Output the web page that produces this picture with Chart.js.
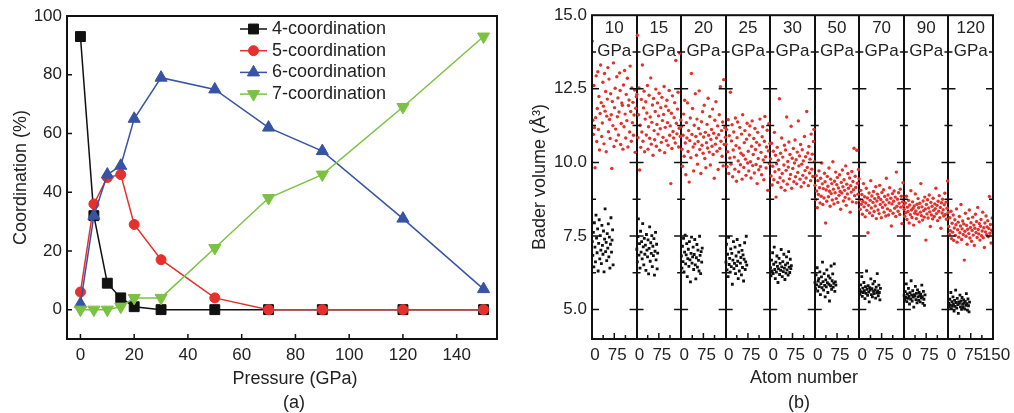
<!DOCTYPE html>
<html>
<head>
<meta charset="utf-8">
<script src="https://cdn.jsdelivr.net/npm/chart.js@4.4.0/dist/chart.umd.min.js"></script>
<style>
  body { margin: 0; background: #fff; }
  #wrap { position: relative; width: 1014px; height: 413px; font-family: "Liberation Sans", Arial, sans-serif; color: #222; }
  #coordChart { position: absolute; left: 0; top: 0; }
  #baderChart { position: absolute; left: 510px; top: 0; }
  .lbl { position: absolute; font-size: 18px; line-height: 20px; white-space: nowrap; transform: translateX(-50%); }
</style>
</head>
<body>
<div id="wrap">
  <canvas id="coordChart" width="510" height="413"></canvas>
  <canvas id="baderChart" width="504" height="413"></canvas>
  <div class="lbl" style="left:295px; top:368px;">Pressure (GPa)</div>
  <div class="lbl" style="left:294px; top:392px;">(a)</div>
  <div class="lbl" style="left:804px; top:367px;">Atom number</div>
  <div class="lbl" style="left:799px; top:392px;">(b)</div>
</div>
<script>
// (a) coordination vs pressure
const pressures = [0, 5, 10, 15, 20, 30, 50, 70, 90, 120, 150];
const coord4 = [93, 32, 9, 4, 1, 0, 0, 0, 0, 0, 0];
const coord5 = [6, 36, 45, 46, 29, 17, 4, 0, 0, 0, 0];
const coord6 = [2, 32, 46, 49, 65, 79, 75, 62, 54, 31, 7];
const coord7 = [0, 0, 0, 1, 4, 4, 21, 38, 46, 69, 93];
const pressureTicks = [0, 20, 40, 60, 80, 100, 120, 140];
const coordTicks = [0, 20, 40, 60, 80, 100];

// (b) Bader volumes, one panel per pressure
const panelPressures = [10, 15, 20, 25, 30, 50, 70, 90, 120];
const red10 = [14.12, 11.43, 10.95, 12.61, 11.18, 9.82, 11.52, 12.94, 10.71, 11.83,
  13.08, 11.12, 12.24, 10.42, 11.66, 13.31, 12.03, 10.88, 11.34, 12.72,
  11.91, 10.63, 13.02, 11.74, 12.41, 10.36, 11.57, 12.15, 13.22, 11.04,
  12.83, 11.46, 10.81, 12.33, 11.62, 9.79, 12.07, 11.25, 13.38, 10.54,
  11.86, 12.52, 11.13, 10.74, 12.91, 11.55, 12.19, 10.93, 11.71, 13.04,
  12.44, 10.61, 11.32, 12.02, 11.94, 10.45, 12.63, 11.21, 13.12, 11.64,
  10.83, 12.31, 11.42, 12.86, 10.52, 11.93, 12.12, 11.03, 13.27, 11.73,
  10.72, 12.53, 11.35, 12.04, 10.92, 11.61, 12.46, 10.34, 11.84, 12.23];
const black10 = [7.31, 6.84, 7.62, 6.45, 7.95, 7.12, 6.62, 8.21, 7.43, 6.93,
  7.74, 6.31, 7.25, 8.05, 6.72, 7.51, 7.02, 6.56, 7.86, 7.18,
  6.88, 7.67, 6.28, 7.39, 8.42, 6.97, 7.28, 6.66, 7.58, 7.09,
  7.91, 6.79, 7.46, 6.41, 7.22, 8.12, 6.95, 7.36, 7.71, 6.52];
const red15 = [12.31, 14.32, 10.84, 11.62, 12.53, 9.74, 11.26, 10.51, 12.14, 11.03,
  13.31, 10.72, 11.85, 12.42, 10.36, 11.47, 12.06, 10.93, 11.68, 12.61,
  10.45, 11.21, 12.28, 10.82, 11.54, 12.87, 10.62, 11.36, 11.95, 10.24,
  12.17, 11.08, 10.77, 11.73, 12.49, 10.55, 11.29, 12.02, 10.96, 11.58,
  12.35, 10.41, 11.14, 11.86, 10.68, 12.21, 11.42, 10.85, 11.63, 12.58,
  10.33, 11.19, 11.91, 10.74, 12.11, 11.35, 10.58, 11.76, 12.44, 10.92,
  11.24, 9.28, 11.67, 10.47, 12.26, 11.05, 10.83, 11.52, 12.03, 10.66,
  13.46, 11.33, 10.97, 11.81, 12.38, 10.52, 11.16, 13.71, 10.88, 11.44];
const black15 = [7.05, 6.62, 7.48, 8.08, 6.85, 7.24, 6.41, 7.66, 6.95, 7.31,
  6.72, 7.92, 7.13, 6.52, 7.42, 6.88, 7.19, 6.33, 7.55, 7.02,
  6.79, 7.37, 6.21, 7.08, 7.81, 6.64, 7.27, 6.91, 7.51, 6.46,
  7.15, 6.83, 7.41, 6.17, 6.98, 7.62, 6.69, 7.22, 6.38, 6.92];
const red20 = [11.22, 10.45, 9.87, 10.92, 11.64, 10.21, 12.11, 10.66, 9.58, 11.35,
  10.83, 12.02, 10.37, 11.08, 9.33, 10.74, 11.51, 10.16, 13.02, 10.95,
  11.83, 10.52, 9.71, 11.26, 10.63, 12.33, 10.88, 10.24, 11.47, 9.94,
  10.71, 11.15, 12.43, 10.44, 10.97, 9.62, 11.38, 10.58, 11.72, 10.31,
  10.86, 11.94, 10.13, 11.02, 9.82, 10.67, 11.29, 10.49, 12.18, 10.92,
  10.35, 11.56, 9.91, 10.78, 11.12, 10.55, 11.81, 10.27, 10.99, 9.46,
  11.43, 10.62, 12.06, 10.83, 10.38, 11.24, 9.76, 10.94, 11.62, 10.47,
  12.57, 10.72, 11.08, 10.21, 11.37, 9.88, 12.81, 10.61, 11.18, 10.85];
const black20 = [6.82, 6.41, 7.15, 6.63, 7.42, 6.28, 6.95, 7.53, 6.55, 6.86,
  7.24, 6.12, 6.73, 7.05, 6.47, 7.31, 6.69, 5.94, 6.91, 7.46,
  6.58, 6.79, 7.12, 6.36, 6.87, 7.38, 6.52, 6.04, 6.76, 7.21,
  6.44, 7.02, 6.67, 6.31, 7.49, 6.84, 6.22, 6.97, 6.61, 7.09];
const red25 = [10.62, 11.12, 9.85, 10.36, 11.45, 9.62, 10.91, 10.15, 12.38, 9.94,
  10.73, 11.28, 9.51, 10.42, 11.03, 10.18, 9.77, 11.51, 10.57, 9.36,
  10.84, 11.37, 10.05, 9.68, 10.49, 11.19, 9.92, 10.31, 10.96, 9.43,
  11.62, 10.24, 9.83, 10.67, 11.08, 10.11, 9.56, 10.79, 11.33, 9.98,
  10.38, 9.71, 10.93, 11.24, 10.02, 9.47, 10.55, 11.41, 9.89, 10.27,
  10.81, 9.64, 11.15, 10.44, 9.93, 10.68, 9.28, 11.02, 10.13, 9.75,
  10.59, 11.47, 9.86, 10.34, 9.58, 10.87, 11.21, 10.08, 9.41, 10.72,
  11.56, 10.19, 9.81, 10.52, 11.09, 9.05, 10.39, 11.31, 9.96, 10.64];
const black25 = [6.61, 7.22, 6.35, 6.88, 6.12, 7.45, 6.53, 6.74, 6.27, 7.06,
  6.46, 6.91, 5.86, 6.68, 7.31, 6.39, 6.57, 7.12, 6.22, 6.82,
  6.49, 7.38, 6.64, 6.05, 6.95, 6.31, 7.18, 6.58, 6.77, 6.18,
  7.01, 6.43, 6.86, 5.97, 6.71, 7.27, 6.36, 6.62, 7.49, 6.51];
const red30 = [10.12, 9.54, 10.65, 9.23, 9.87, 10.38, 9.41, 11.02, 9.68, 10.24,
  8.82, 9.95, 10.51, 9.32, 10.07, 9.76, 12.16, 9.48, 10.31, 9.15,
  10.83, 9.62, 10.18, 9.37, 9.91, 10.58, 9.05, 10.42, 9.73, 11.54,
  9.26, 10.03, 9.84, 10.69, 9.44, 10.27, 9.59, 11.23, 9.12, 10.14,
  9.79, 10.47, 9.34, 9.98, 10.76, 9.51, 10.09, 9.27, 10.35, 9.66,
  11.41, 9.88, 10.22, 9.43, 10.61, 9.17, 9.94, 10.43, 9.56, 10.05,
  9.31, 10.88, 9.72, 10.19, 9.47, 11.73, 9.83, 10.32, 9.21, 10.54,
  9.64, 10.11, 9.38, 10.96, 9.77, 10.28, 9.52, 10.71, 11.12, 10.02];
const black30 = [6.42, 6.15, 6.68, 6.31, 6.93, 6.22, 6.54, 7.12, 6.36, 6.05,
  6.61, 6.27, 6.82, 6.47, 5.92, 6.38, 6.74, 6.19, 6.57, 6.33,
  7.04, 6.45, 6.12, 6.63, 6.29, 6.88, 6.41, 6.02, 6.52, 6.24,
  6.79, 6.35, 6.58, 6.17, 6.97, 6.44, 6.26, 6.71, 6.39, 6.49];
const red50 = [9.22, 8.74, 9.55, 9.03, 8.46, 9.38, 8.91, 9.71, 9.14, 8.62,
  9.46, 8.85, 9.98, 9.27, 8.57, 9.11, 8.79, 9.63, 9.34, 7.94,
  9.06, 8.68, 9.52, 9.19, 8.83, 9.81, 9.02, 8.51, 9.43, 8.94,
  9.28, 8.72, 10.02, 9.09, 8.59, 9.36, 8.97, 9.67, 8.77, 9.24,
  9.49, 8.64, 9.13, 8.88, 9.58, 9.01, 8.41, 9.32, 8.96, 9.74,
  9.17, 8.69, 9.41, 9.05, 8.81, 9.88, 8.54, 9.26, 8.93, 9.62,
  9.12, 8.76, 9.47, 8.31, 9.21, 8.99, 9.69, 8.66, 9.35, 9.07,
  10.48, 8.87, 9.53, 9.15, 8.63, 10.41, 9.29, 8.92, 9.76, 9.44];
const black50 = [5.92, 5.71, 6.18, 5.84, 6.42, 5.63, 5.97, 6.05, 5.78, 6.28,
  5.51, 5.88, 6.11, 5.74, 6.61, 5.95, 5.66, 6.22, 5.82, 5.43,
  6.01, 5.77, 6.35, 5.91, 5.58, 6.14, 5.86, 5.29, 6.07, 5.81,
  6.48, 5.69, 5.98, 6.21, 5.76, 5.89, 6.55, 5.62, 5.94, 5.83];
const red70 = [8.72, 8.41, 9.05, 8.58, 8.91, 8.24, 8.67, 9.28, 8.49, 8.83,
  8.15, 8.62, 9.12, 8.37, 8.79, 7.61, 8.54, 8.96, 8.28, 8.71,
  9.38, 8.45, 8.86, 8.19, 8.64, 9.01, 8.33, 8.77, 8.52, 9.17,
  8.09, 8.69, 8.92, 8.38, 8.81, 8.26, 9.22, 8.57, 8.74, 8.12,
  8.98, 8.47, 8.65, 9.07, 8.31, 8.84, 8.55, 8.18, 9.46, 8.73,
  8.42, 8.89, 8.21, 8.63, 9.14, 8.36, 8.78, 7.84, 8.59, 8.94,
  8.27, 8.68, 9.03, 8.44, 8.82, 8.16, 9.67, 8.51, 8.75, 8.34,
  8.97, 8.61, 8.23, 9.09, 8.48, 8.85, 7.92, 8.66, 9.31, 8.53];
const black70 = [5.68, 5.52, 5.84, 5.61, 6.12, 5.45, 5.73, 5.58, 5.92, 5.64,
  5.37, 5.78, 5.55, 6.31, 5.69, 5.48, 5.81, 5.59, 5.26, 5.74,
  5.66, 6.04, 5.51, 5.71, 5.43, 5.87, 5.62, 5.54, 5.96, 5.67,
  5.39, 5.76, 5.57, 6.22, 5.63, 5.47, 5.83, 5.58, 5.33, 5.72];
const red90 = [8.41, 8.17, 8.62, 8.29, 8.85, 8.06, 8.48, 8.33, 8.71, 7.94,
  8.55, 8.22, 9.04, 8.38, 8.13, 8.66, 8.44, 7.87, 8.52, 8.27,
  8.93, 8.35, 8.09, 8.58, 8.24, 8.77, 8.46, 7.98, 8.61, 8.31,
  9.28, 8.19, 8.49, 8.04, 8.69, 8.36, 8.14, 8.82, 8.42, 7.36,
  8.57, 8.25, 8.73, 8.11, 8.45, 8.89, 8.32, 7.82, 8.64, 8.21,
  8.51, 8.08, 8.78, 8.37, 8.16, 8.59, 8.43, 9.12, 8.26, 8.54,
  8.02, 8.68, 8.34, 8.87, 8.12, 8.47, 7.76, 8.63, 8.28, 8.75,
  8.39, 8.18, 8.56, 8.95, 8.23, 8.65, 8.07, 8.44, 9.37, 8.30];
const black90 = [5.48, 5.32, 5.61, 5.41, 5.87, 5.27, 5.53, 5.38, 5.72, 5.45,
  5.19, 5.57, 5.36, 5.98, 5.49, 5.29, 5.64, 5.42, 5.08, 5.51,
  5.46, 5.79, 5.34, 5.55, 5.23, 5.67, 5.43, 5.31, 5.58, 5.47,
  5.26, 5.52, 5.39, 5.83, 5.44, 5.21, 5.62, 5.35, 5.14, 5.50];
const red120 = [7.82, 7.56, 8.12, 7.68, 8.34, 7.41, 7.93, 7.63, 8.21, 7.35,
  7.77, 8.05, 7.52, 7.88, 8.42, 7.29, 7.71, 7.97, 7.46, 8.16,
  7.61, 7.84, 8.57, 7.38, 7.74, 8.01, 7.55, 7.91, 6.68, 7.66,
  8.27, 7.49, 7.86, 7.22, 7.73, 8.09, 7.58, 8.38, 7.43, 7.79,
  7.95, 7.32, 7.69, 8.14, 7.53, 7.87, 7.18, 7.76, 8.24, 7.62,
  7.99, 7.45, 8.47, 7.72, 7.57, 7.92, 7.36, 7.83, 8.06, 7.51,
  7.67, 8.31, 7.44, 7.78, 7.11, 7.94, 7.64, 8.18, 7.54, 7.81,
  8.02, 7.47, 7.75, 8.84, 7.59, 7.89, 7.26, 7.70, 8.11, 7.65];
const black120 = [5.22, 5.08, 5.35, 5.16, 5.58, 5.03, 5.27, 5.12, 5.43, 5.19,
  4.95, 5.31, 5.11, 5.66, 5.24, 5.05, 5.38, 5.17, 4.87, 5.26,
  5.21, 5.49, 5.09, 5.29, 5.01, 5.41, 5.18, 5.07, 5.33, 5.23,
  5.02, 5.28, 5.14, 5.54, 5.20, 4.98, 5.36, 5.13, 4.92, 5.25];
const volumeTicks = [5, 6.25, 7.5, 8.75, 10, 11.25, 12.5, 13.75, 15];
const atomTicksInPanel = [0, 37.5, 75, 112.5];

const redByPanel = [red10, red15, red20, red25, red30, red50, red70, red90, red120];
const blackByPanel = [black10, black15, black20, black25, black30, black50, black70, black90, black120];
const panelWidth = 150;   // atom numbers 0..150 in every panel
const blackSpan = 72;     // black atoms only use the first half

const TXT = '#222';
const FONT = '"Liberation Sans", Arial, sans-serif';
Chart.defaults.font.family = FONT;
Chart.defaults.color = TXT;

function series(label, values, color, style, radius, rotation, order) {
  return {
    label: label,
    data: pressures.map((p, i) => ({ x: p, y: values[i] })),
    showLine: true,
    borderColor: color,
    backgroundColor: color,
    borderWidth: 1.5,
    pointStyle: style,
    pointRadius: radius,
    pointRotation: rotation,
    pointBorderWidth: 1,
    pointBackgroundColor: color,
    pointBorderColor: color,
    order: order
  };
}

// frame, inward ticks and the inset legend of panel (a)
const frameA = {
  id: 'frameA',
  afterDraw(chart) {
    const { ctx, chartArea: a, scales: { x, y } } = chart;
    ctx.save();
    ctx.strokeStyle = '#111';
    ctx.lineWidth = 1.5;
    ctx.beginPath();
    x.ticks.forEach(t => {
      const p = x.getPixelForValue(t.value);
      ctx.moveTo(p, a.bottom); ctx.lineTo(p, a.bottom - 5);
    });
    y.ticks.forEach(t => {
      const p = y.getPixelForValue(t.value);
      ctx.moveTo(a.left, p); ctx.lineTo(a.left + 5, p);
    });
    ctx.stroke();
    ctx.lineWidth = 2;
    ctx.strokeRect(a.left, a.top, a.width, a.height);

    // legend
    const x0 = a.left + 173, x1 = a.left + 200, tx = a.left + 205;
    ctx.font = '18px ' + FONT;
    ctx.textBaseline = 'middle';
    ctx.textAlign = 'left';
    chart.data.datasets.forEach((ds, i) => {
      const ly = a.top + 13 + i * 21.7;
      ctx.strokeStyle = ds.borderColor;
      ctx.lineWidth = 1.5;
      ctx.beginPath(); ctx.moveTo(x0, ly); ctx.lineTo(x1, ly); ctx.stroke();
      ctx.fillStyle = ds.pointBackgroundColor;
      ctx.lineWidth = 1;
      Chart.helpers.drawPoint(ctx, {
        pointStyle: ds.pointStyle, radius: ds.pointRadius,
        rotation: ds.pointRotation, borderWidth: 1
      }, (x0 + x1) / 2, ly);
      ctx.fillStyle = TXT;
      ctx.fillText(ds.label, tx, ly);
    });
    ctx.restore();
  }
};

new Chart(document.getElementById('coordChart'), {
  type: 'scatter',
  data: {
    datasets: [
      series('4-coordination', coord4, '#111111', 'rect', 7, 0, 4),
      series('5-coordination', coord5, '#e5302b', 'circle', 5, 0, 3),
      series('6-coordination', coord6, '#3753a5', 'triangle', 7, 0, 2),
      series('7-coordination', coord7, '#7cc242', 'triangle', 7, 180, 1)
    ]
  },
  options: {
    responsive: false,
    animation: false,
    layout: { padding: { top: 16, right: 13, left: 0, bottom: 0 } },
    plugins: { legend: { display: false }, tooltip: { enabled: false } },
    scales: {
      x: {
        type: 'linear', min: -5, max: 155,
        afterBuildTicks: s => { s.ticks = pressureTicks.map(v => ({ value: v })); },
        afterFit: s => { s.height = 74; },
        grid: { display: false, drawTicks: false },
        border: { display: false },
        ticks: { padding: 6, font: { size: 17 }, color: TXT, maxRotation: 0, autoSkip: false }
      },
      y: {
        min: -10, max: 100,
        afterBuildTicks: s => { s.ticks = coordTicks.map(v => ({ value: v })); },
        afterFit: s => { s.width = 67; },
        grid: { display: false, drawTicks: false },
        border: { display: false },
        ticks: { padding: 5, font: { size: 17 }, color: TXT },
        title: { display: true, text: 'Coordination (%)', font: { size: 18 }, color: TXT, padding: { top: 10, bottom: 0 } }
      }
    }
  },
  plugins: [frameA]
});

// panel (b)
const redPoints = [];
const blackPoints = [];
redByPanel.forEach((vals, k) => vals.forEach((v, i) => {
  redPoints.push({ x: k * panelWidth + (i + 0.5) * panelWidth / vals.length, y: v });
}));
blackByPanel.forEach((vals, k) => vals.forEach((v, i) => {
  blackPoints.push({ x: k * panelWidth + (i + 0.5) * blackSpan / vals.length, y: v });
}));
const atomTicks = [];
panelPressures.forEach((p, k) => atomTicksInPanel.forEach(t => atomTicks.push(k * panelWidth + t)));
atomTicks.push(panelPressures.length * panelWidth);

const frameB = {
  id: 'frameB',
  afterDraw(chart) {
    const { ctx, chartArea: a, scales: { x, y } } = chart;
    ctx.save();
    ctx.beginPath(); ctx.rect(a.left, a.top, a.width, a.height); ctx.clip();
    ctx.strokeStyle = '#111';
    ctx.lineWidth = 1.5;
    ctx.beginPath();
    for (let k = 0; k <= panelPressures.length; k++) {
      const px = x.getPixelForValue(k * panelWidth);
      y.ticks.forEach(t => {
        const len = t.value % 2.5 === 0 ? 7 : 4;
        const py = y.getPixelForValue(t.value);
        ctx.moveTo(px - len, py); ctx.lineTo(px + len, py);
      });
    }
    x.ticks.forEach(t => {
      if (t.value % panelWidth === 0) return;
      const len = t.value % 75 === 0 ? 6 : 4;
      const px = x.getPixelForValue(t.value);
      ctx.moveTo(px, a.bottom); ctx.lineTo(px, a.bottom - len);
    });
    ctx.stroke();
    ctx.restore();

    ctx.save();
    ctx.strokeStyle = '#111';
    ctx.lineWidth = 2;
    ctx.strokeRect(a.left, a.top, a.width, a.height);
    ctx.fillStyle = TXT;
    ctx.font = '17px ' + FONT;
    ctx.textAlign = 'center';
    ctx.textBaseline = 'middle';
    panelPressures.forEach((p, k) => {
      const cx = x.getPixelForValue(k * panelWidth + panelWidth / 2);
      ctx.fillText(String(p), cx, a.top + 13);
      ctx.fillText('GPa', cx, a.top + 36);
    });
    ctx.restore();
  }
};

new Chart(document.getElementById('baderChart'), {
  type: 'scatter',
  data: {
    datasets: [
      { label: 'red atoms', data: redPoints, pointStyle: 'circle', pointRadius: 1.7,
        pointBorderWidth: 0, backgroundColor: '#e5302b', borderColor: '#e5302b' },
      { label: 'black atoms', data: blackPoints, pointStyle: 'rect', pointRadius: 2.0,
        pointBorderWidth: 0, backgroundColor: '#111111', borderColor: '#111111' }
    ]
  },
  options: {
    responsive: false,
    animation: false,
    layout: { padding: { top: 14, right: 21, left: 0, bottom: 0 } },
    plugins: { legend: { display: false }, tooltip: { enabled: false } },
    scales: {
      x: {
        type: 'linear', min: 0, max: panelPressures.length * panelWidth,
        afterBuildTicks: s => { s.ticks = atomTicks.map(v => ({ value: v })); },
        afterFit: s => { s.height = 74; },
        grid: {
          drawTicks: false, lineWidth: 2,
          color: c => (c.tick && c.tick.value % panelWidth === 0) ? '#111' : 'rgba(0,0,0,0)'
        },
        border: { display: false },
        ticks: {
          padding: 6, labelOffset: 3, font: { size: 17 }, color: TXT, maxRotation: 0, autoSkip: false,
          callback: v => {
            if (v === panelPressures.length * panelWidth) return '150';
            const r = v % panelWidth;
            return r === 0 ? '0' : (r === 75 ? '75' : '');
          }
        }
      },
      y: {
        min: 4, max: 15,
        afterBuildTicks: s => { s.ticks = volumeTicks.map(v => ({ value: v })); },
        afterFit: s => { s.width = 82; },
        grid: { display: false, drawTicks: false },
        border: { display: false },
        ticks: { padding: 5, font: { size: 17 }, color: TXT, callback: v => v % 2.5 === 0 ? v.toFixed(1) : '' },
        title: { display: true, text: 'Bader volume (Å³)', font: { size: 18 }, color: TXT, padding: { top: 19, bottom: 0 } }
      }
    }
  },
  plugins: [frameB]
});
</script>
</body>
</html>
